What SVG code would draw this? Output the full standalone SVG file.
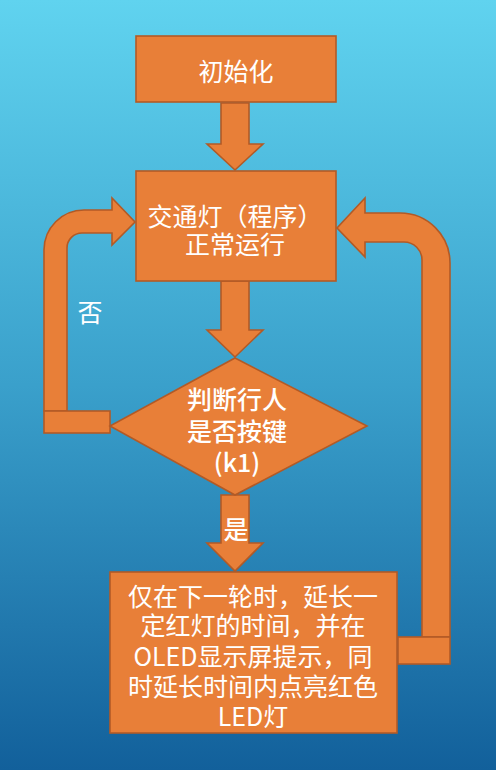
<svg xmlns="http://www.w3.org/2000/svg" width="496" height="770" viewBox="0 0 496 770">
<defs>
<linearGradient id="bg" x1="0" y1="0" x2="0" y2="1">
<stop offset="0" stop-color="#60d3ef"/>
<stop offset="0.5" stop-color="#3aa0cb"/>
<stop offset="1" stop-color="#12609b"/>
</linearGradient>
<style>
.sh{fill:#e87f38;stroke:#b25a26;stroke-width:1.6;stroke-linejoin:miter}
.t{fill:#ffffff;font-family:"Noto Sans CJK SC","Noto Sans",sans-serif;font-size:25px;text-anchor:middle;dominant-baseline:central}
.b{font-weight:500}
</style>
</defs>
<rect x="0" y="0" width="496" height="770" fill="url(#bg)"/>
<g id="connectors">
<path class="sh" d="M221,103 H249 V144 H263 L235,170 L207,144 H221 Z"/>
<path class="sh" d="M221,281 H249 V330 H263 L235,357 L207,330 H221 Z"/>
<path class="sh" d="M221,495 H249 V543 H263 L235,571 L207,543 H221 Z"/>
<path class="sh" d="M44,411 V250 A40,40 0 0 1 84,210 H112 V198 L135,222 L112,245 V233 H82 A15,15 0 0 0 67,248 V411 Z"/>
<rect class="sh" x="44" y="411" width="66" height="22"/>
<path class="sh" d="M450,637 V263 A50,50 0 0 0 400,213 H365 V198 L337,228 L365,257 V242 H404 A18,18 0 0 1 422,260 V637 Z"/>
<rect class="sh" x="398" y="637" width="52" height="27"/>
<text class="t" x="90" y="311">否</text>
<text class="t b" x="236" y="528">是</text>
</g>
<g id="init">
<rect class="sh" x="136" y="36" width="200" height="66"/>
<text class="t" x="236" y="70">初始化</text>
</g>
<g id="run">
<rect class="sh" x="136" y="171" width="200" height="110"/>
<text class="t" x="235" y="215">交通灯（程序）</text>
<text class="t" x="235" y="243">正常运行</text>
</g>
<g id="decision">
<path class="sh" d="M235,358 L367,426 L235,495 L110,426 Z"/>
<text class="t b" x="237" y="398">判断行人</text>
<text class="t b" x="237" y="430">是否按键</text>
<text class="t b" x="237" y="461">(k1)</text>
</g>
<g id="extend">
<rect class="sh" x="110" y="572" width="287" height="161"/>
<text class="t" x="253" y="595">仅在下一轮时，延长一</text>
<text class="t" x="253" y="624">定红灯的时间，并在</text>
<text class="t" x="253" y="655">OLED显示屏提示，同</text>
<text class="t" x="253" y="685">时延长时间内点亮红色</text>
<text class="t" x="253" y="715">LED灯</text>
</g>
</svg>
